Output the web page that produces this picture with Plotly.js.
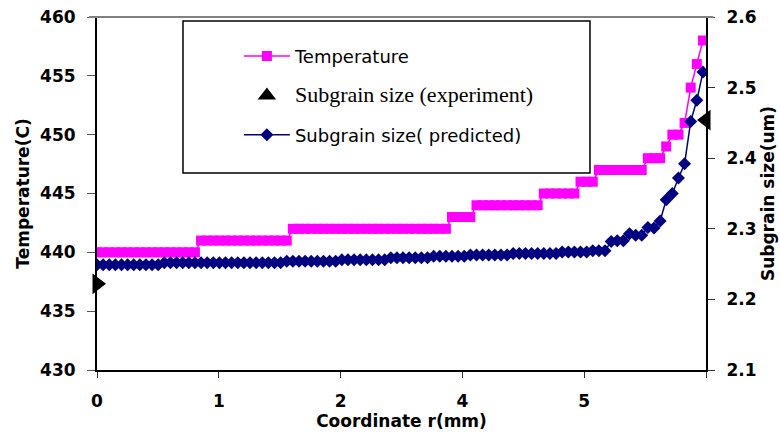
<!DOCTYPE html>
<html><head><meta charset="utf-8">
<script src="https://cdn.plot.ly/plotly-3.0.1.min.js"></script>
<style>html,body{margin:0;padding:0;background:#fff}</style>
</head><body><div id="chart" style="width:780px;height:434px"></div>
<script>
// sample position (index along r)
const pointIndex = [0,1,2,3,4,5,6,7,8,9,10,11,12,13,14,15,16,17,18,19,
  20,21,22,23,24,25,26,27,28,29,30,31,32,33,34,35,36,37,38,39,
  40,41,42,43,44,45,46,47,48,49,50,51,52,53,54,55,56,57,58,59,
  60,61,62,63,64,65,66,67,68,69,70,71,72,73,74,75,76,77,78,79,
  80,81,82,83,84,85,86,87,88,89,90,91,92,93,94,95,96,97,98,99];

const temperature = [
  440,440,440,440,440,440,440,440,440,440,440,440,440,440,440,440,440,
  441,441,441,441,441,441,441,441,441,441,441,441,441,441,441,
  442,442,442,442,442,442,442,442,442,442,442,442,442,442,442,442,442,442,442,442,442,442,442,442,442,442,
  443,443,443,443,
  444,444,444,444,444,444,444,444,444,444,444,
  445,445,445,445,445,445,
  446,446,446,
  447,447,447,447,447,447,447,447,
  448,448,448,
  449,
  450,450,
  451,454,456,458];

const subgrainPredicted = [
  2.249,2.249,2.249,2.249,2.249,2.249,2.249,2.249,2.249,2.249,2.249,
  2.252,2.252,2.252,2.252,2.252,2.252,2.252,2.252,2.252,2.252,2.252,2.252,2.252,2.252,2.252,2.252,2.252,2.252,2.252,2.252,
  2.254,2.254,2.254,2.254,2.254,2.254,2.254,2.254,2.254,
  2.256,2.256,2.256,2.256,2.256,2.256,2.256,2.256,
  2.259,2.259,2.259,2.259,2.259,2.259,2.259,
  2.261,2.261,2.261,2.261,2.261,2.261,
  2.263,2.263,2.263,2.263,2.263,2.263,2.263,
  2.265,2.265,2.265,2.265,2.265,2.265,2.265,2.265,
  2.267,2.267,2.267,2.267,2.267,
  2.269,2.269,2.269,
  2.282,2.283,2.283,2.293,2.291,2.291,2.302,2.301,2.311,2.341,
  2.350,2.372,2.392,2.452,2.482,2.522];

const experimentPos = [0, 99.5];
const subgrainExperiment = [2.222, 2.454];

const xTickPos = [0, 19.9, 39.8, 59.7, 79.6, 99.5];
const xTickLabels = ['0', '1', '2', '4', '5', ''];
const tempTicks = [430, 435, 440, 445, 450, 455, 460];
const sizeTicks = [2.1, 2.2, 2.3, 2.4, 2.5, 2.6];

const boldFont = {family: 'DejaVu Sans', size: 17, weight: 'bold', color: '#000'};
const titleFont = {family: 'DejaVu Sans', size: 17, weight: 'bold', color: '#000'};

const traces = [
  {
    x: pointIndex, y: temperature, name: 'Temperature', type: 'scatter', mode: 'lines+markers',
    line: {color: '#FF00FF', width: 1.5},
    marker: {symbol: 'square', size: 10, color: '#FF00FF'},
    legendgroup: 'a', yaxis: 'y'
  },
  {
    x: [null], y: [null], type: 'scatter', mode: 'markers',
    name: '<span style="font-family:\'Liberation Serif\';font-size:22px">Subgrain size (experiment)</span>',
    marker: {symbol: 'triangle-up', size: 16, color: '#000'},
    legendgroup: 'b', yaxis: 'y2'
  },
  {
    x: pointIndex, y: subgrainPredicted, name: 'Subgrain size( predicted)', type: 'scatter', mode: 'lines+markers',
    line: {color: '#000080', width: 1.5},
    marker: {symbol: 'diamond', size: 10, color: '#000080'},
    legendgroup: 'c', yaxis: 'y2'
  },
  {
    x: experimentPos, y: subgrainExperiment, type: 'scatter', mode: 'markers', showlegend: false,
    marker: {symbol: ['triangle-right', 'triangle-left'], size: 18, color: '#000'},
    legendgroup: 'b', yaxis: 'y2', cliponaxis: false
  }
];

const layout = {
  width: 780, height: 434,
  margin: {l: 97, r: 74, t: 17, b: 64},
  paper_bgcolor: '#fff', plot_bgcolor: '#fff',
  showlegend: true,
  legend: {
    x: 0.233, y: 0.941, xanchor: 'left', yanchor: 'top',
    bgcolor: 'rgba(0,0,0,0)', borderwidth: 0,
    font: {family: 'DejaVu Sans', size: 18, color: '#000'},
    itemwidth: 46, tracegroupgap: 13, traceorder: 'grouped'
  },
  xaxis: {
    range: [0, 99.5], tickmode: 'array', tickvals: xTickPos, ticktext: xTickLabels,
    ticks: 'outside', ticklen: 6, tickwidth: 1, tickcolor: '#333',
    showline: true, linecolor: '#000', linewidth: 2, showgrid: false, zeroline: false,
    tickfont: boldFont, ticklabelstandoff: 9,
    title: {text: 'Coordinate r(mm)', font: titleFont, standoff: 1}
  },
  xaxis2: {
    overlaying: 'x', anchor: 'y', range: [0, 99.5], tickmode: 'array', tickvals: xTickPos,
    ticks: 'inside', ticklen: 6, tickwidth: 1, tickcolor: '#333',
    showticklabels: false, showline: false, showgrid: false, zeroline: false
  },
  yaxis: {
    range: [430, 460], tickmode: 'array', tickvals: tempTicks,
    ticks: 'outside', ticklen: 8, tickwidth: 1, tickcolor: '#555',
    showline: true, linecolor: '#000', linewidth: 2, showgrid: false, zeroline: false,
    tickfont: boldFont, ticklabelstandoff: 8,
    title: {text: 'Temperature(C)', font: titleFont, standoff: 6}
  },
  yaxis2: {
    overlaying: 'y', side: 'right', anchor: 'x', range: [2.1, 2.6], tickmode: 'array', tickvals: sizeTicks,
    tickformat: '.1f',
    ticks: 'outside', ticklen: 7, tickwidth: 1, tickcolor: '#333',
    showline: true, linecolor: '#000', linewidth: 2, showgrid: false, zeroline: false,
    tickfont: boldFont, ticklabelstandoff: 8,
    title: {text: 'Subgrain size(um)', font: titleFont, standoff: 6}
  },
  yaxis3: {
    overlaying: 'y', side: 'left', anchor: 'x', range: [430, 460], tickmode: 'array', tickvals: tempTicks,
    ticks: 'inside', ticklen: 6, tickwidth: 1, tickcolor: '#555',
    showticklabels: false, showline: false, showgrid: false, zeroline: false
  },
  yaxis4: {
    overlaying: 'y', side: 'right', anchor: 'x', range: [2.1, 2.6], tickmode: 'array', tickvals: sizeTicks,
    ticks: 'inside', ticklen: 7, tickwidth: 1, tickcolor: '#333',
    showticklabels: false, showline: false, showgrid: false, zeroline: false
  },
  shapes: [
    {type: 'line', xref: 'paper', yref: 'paper', x0: -0.013, x1: 1.012, y0: 1, y1: 1,
     line: {color: '#808080', width: 2}},
    {type: 'rect', xref: 'paper', yref: 'paper', x0: 0.1412, x1: 0.8095, y0: 0.5581, y1: 0.9887,
     line: {color: '#000', width: 1.5}, fillcolor: 'rgba(0,0,0,0)'}
  ]
};

Plotly.newPlot('chart', traces, layout, {displayModeBar: false, staticPlot: true});
</script>
</body></html>
